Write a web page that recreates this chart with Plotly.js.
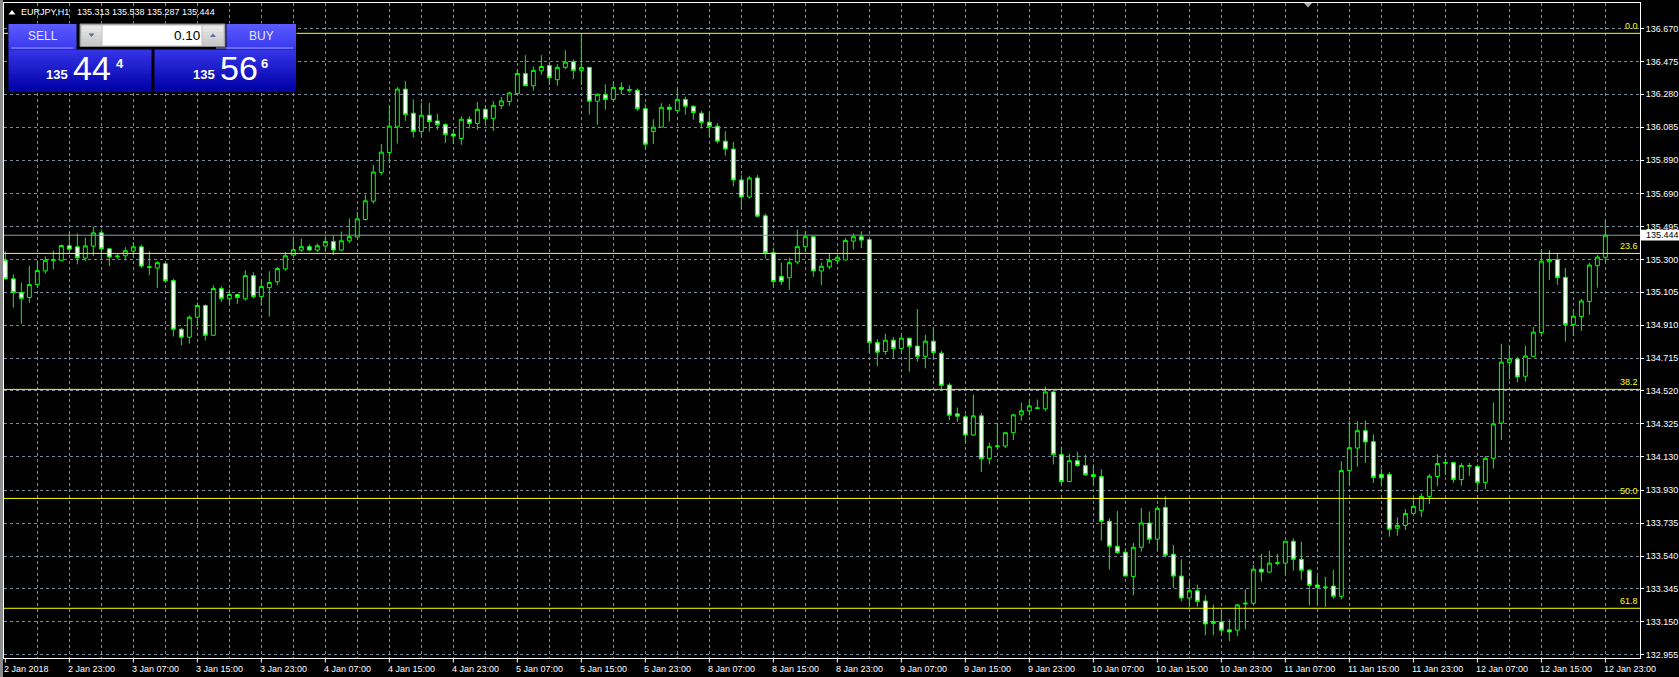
<!DOCTYPE html>
<html><head><meta charset="utf-8">
<script src="https://cdn.plot.ly/plotly-3.0.1.min.js"></script>
<style>html,body{margin:0;padding:0;background:#000;overflow:hidden}#chart{width:1679px;height:677px}</style>
</head><body><div id="chart"></div>
<script>
// ---- DATA (EURJPY, H1) ----
const symbol = 'EURJPY,H1';
const headerOHLC = '135.313 135.538 135.287 135.444';
const timeLabels = ['2 Jan 2018','2 Jan 23:00','3 Jan 07:00','3 Jan 15:00','3 Jan 23:00','4 Jan 07:00','4 Jan 15:00','4 Jan 23:00','5 Jan 07:00','5 Jan 15:00','5 Jan 23:00','8 Jan 07:00','8 Jan 15:00','8 Jan 23:00','9 Jan 07:00','9 Jan 15:00','9 Jan 23:00','10 Jan 07:00','10 Jan 15:00','10 Jan 23:00','11 Jan 07:00','11 Jan 15:00','11 Jan 23:00','12 Jan 07:00','12 Jan 15:00','12 Jan 23:00'];
const priceTicks = ['136.670','136.475','136.280','136.085','135.890','135.690','135.495','135.300','135.105','134.910','134.715','134.520','134.325','134.130','133.930','133.735','133.540','133.345','133.150','132.955'];
const open = [135.295,135.185,135.104,135.074,135.151,135.232,135.293,135.295,135.381,135.375,
135.308,135.379,135.458,135.363,135.316,135.322,135.350,135.375,135.257,135.249,
135.275,135.175,134.886,134.839,134.957,135.027,134.850,135.128,135.067,135.092,
135.067,135.204,135.080,135.133,135.167,135.244,135.326,135.356,135.376,135.356,
135.380,135.407,135.356,135.411,135.433,135.537,135.646,135.817,135.935,136.087,
136.311,136.168,136.059,136.156,136.122,136.101,136.044,136.018,136.132,136.107,
136.191,136.136,136.213,136.237,136.284,136.404,136.331,136.420,136.451,136.367,
136.440,136.473,136.422,136.440,136.239,136.280,136.250,136.321,136.304,136.304,
136.195,136.059,136.085,136.203,136.183,136.250,136.209,136.168,136.115,136.091,
136.002,135.955,135.772,135.671,135.784,135.559,135.340,135.199,135.191,135.285,
135.376,135.435,135.232,135.256,135.293,135.297,135.409,135.435,135.418,134.807,
134.754,134.821,134.772,134.833,134.786,134.725,134.815,134.744,134.555,134.384,
134.366,134.258,134.372,134.118,134.189,134.193,134.272,134.378,134.402,134.416,
134.414,134.514,134.142,133.982,134.106,134.077,134.023,134.012,133.746,133.598,
133.563,133.419,133.592,133.736,133.640,133.829,133.551,133.421,133.291,133.334,
133.273,133.151,133.149,133.102,133.100,133.256,133.260,133.462,133.445,133.496,
133.498,133.628,133.521,133.456,133.368,133.352,133.362,133.301,134.047,134.181,
134.284,134.219,134.024,134.024,133.705,133.722,133.793,133.811,133.894,134.012,
134.091,134.095,133.994,134.073,134.071,133.977,134.120,134.329,134.689,134.709,
134.607,134.725,134.867,135.286,135.300,135.194,134.914,134.961,135.050,135.263,
135.313];
const high = [135.348,135.212,135.163,135.263,135.295,135.318,135.354,135.389,135.462,135.454,
135.430,135.495,135.478,135.363,135.334,135.373,135.403,135.389,135.348,135.289,
135.281,135.185,134.894,134.968,135.045,135.033,135.147,135.141,135.122,135.095,
135.236,135.224,135.183,135.230,135.255,135.344,135.435,135.423,135.390,135.395,
135.437,135.443,135.466,135.543,135.583,135.685,135.862,135.986,136.217,136.323,
136.359,136.250,136.229,136.229,136.164,136.109,136.075,136.150,136.150,136.235,
136.211,136.241,136.264,136.296,136.428,136.512,136.445,136.512,136.473,136.459,
136.542,136.487,136.637,136.440,136.286,136.339,136.357,136.351,136.333,136.315,
136.221,136.132,136.227,136.221,136.315,136.266,136.215,136.181,136.172,136.109,
136.061,135.998,135.801,135.797,135.801,135.573,135.370,135.281,135.311,135.478,
135.470,135.435,135.281,135.336,135.330,135.429,135.455,135.467,135.430,134.827,
134.859,134.839,134.853,134.833,135.006,134.853,134.898,134.758,134.567,134.421,
134.380,134.498,134.390,134.213,134.331,134.272,134.384,134.451,134.469,134.469,
134.546,134.526,134.189,134.147,134.159,134.142,134.083,134.055,133.764,133.807,
133.586,133.618,133.825,133.805,133.837,133.896,133.606,133.521,133.395,133.370,
133.307,133.251,133.212,133.165,133.257,133.342,133.488,133.553,133.571,133.553,
133.628,133.645,133.626,133.464,133.423,133.417,133.458,134.102,134.343,134.339,
134.345,134.262,134.059,134.039,133.770,133.819,133.878,133.913,134.026,134.144,
134.118,134.095,134.091,134.091,134.083,134.134,134.451,134.800,134.792,134.721,
134.788,134.900,135.359,135.355,135.336,135.249,135.005,135.066,135.280,135.326,
135.538];
const low = [135.180,135.014,134.919,135.043,135.133,135.216,135.242,135.289,135.334,135.271,
135.291,135.320,135.300,135.261,135.302,135.295,135.314,135.249,135.206,135.131,
135.161,134.843,134.790,134.801,134.907,134.819,134.850,135.049,135.033,135.037,
135.055,135.067,135.027,134.961,135.147,135.232,135.320,135.344,135.350,135.344,
135.348,135.326,135.350,135.397,135.433,135.531,135.632,135.799,135.870,135.988,
136.124,136.024,136.036,136.059,136.069,135.992,135.986,135.981,136.077,136.069,
136.109,136.063,136.193,136.211,136.284,136.331,136.302,136.396,136.335,136.331,
136.428,136.371,136.335,136.160,136.099,136.189,136.239,136.280,136.290,136.181,
135.955,135.986,136.085,136.118,136.183,136.160,136.130,136.077,136.026,135.988,
135.916,135.734,135.598,135.661,135.551,135.305,135.139,135.149,135.120,135.271,
135.350,135.197,135.149,135.242,135.271,135.297,135.360,135.366,134.742,134.666,
134.735,134.715,134.742,134.634,134.693,134.654,134.711,134.520,134.345,134.335,
134.213,134.252,134.039,134.084,134.177,134.181,134.228,134.343,134.374,134.412,
134.400,134.084,133.962,133.982,134.070,134.016,133.964,133.632,133.460,133.553,
133.421,133.307,133.567,133.614,133.573,133.531,133.350,133.271,133.236,133.240,
133.070,133.070,133.070,133.035,133.064,133.106,133.254,133.389,133.441,133.484,
133.429,133.454,133.399,133.248,133.254,133.238,133.287,133.283,133.961,134.071,
134.093,133.974,133.953,133.655,133.661,133.695,133.785,133.772,133.848,133.955,
134.020,133.974,133.957,134.016,133.933,133.937,134.059,134.229,134.587,134.571,
134.575,134.725,134.843,135.178,135.150,134.812,134.847,134.876,134.971,135.133,
135.287];
const close = [135.185,135.104,135.069,135.151,135.234,135.295,135.299,135.383,135.361,135.310,
135.381,135.458,135.363,135.314,135.320,135.352,135.375,135.261,135.253,135.281,
135.173,134.886,134.839,134.957,135.027,134.850,135.128,135.069,135.092,135.074,
135.204,135.080,135.139,135.163,135.246,135.322,135.358,135.376,135.356,135.382,
135.407,135.356,135.411,135.435,135.541,135.648,135.819,135.937,136.091,136.311,
136.160,136.059,136.156,136.118,136.101,136.042,136.032,136.132,136.107,136.191,
136.136,136.215,136.241,136.288,136.404,136.331,136.422,136.445,136.378,136.440,
136.471,136.422,136.440,136.239,136.280,136.250,136.321,136.310,136.308,136.195,
135.984,136.085,136.203,136.191,136.250,136.209,136.172,136.113,136.089,136.002,
135.955,135.772,135.671,135.784,135.557,135.340,135.169,135.169,135.281,135.376,
135.435,135.232,135.260,135.293,135.313,135.413,135.435,135.415,134.807,134.750,
134.821,134.772,134.833,134.784,134.725,134.815,134.748,134.553,134.376,134.370,
134.258,134.372,134.118,134.189,134.193,134.272,134.378,134.402,134.431,134.419,
134.514,134.142,133.982,134.106,134.077,134.023,134.012,133.746,133.598,133.561,
133.421,133.592,133.736,133.640,133.823,133.545,133.421,133.291,133.334,133.271,
133.137,133.141,133.100,133.090,133.250,133.260,133.462,133.445,133.498,133.500,
133.628,133.521,133.456,133.366,133.354,133.356,133.301,134.047,134.183,134.284,
134.217,134.006,134.004,133.699,133.722,133.793,133.835,133.894,134.014,134.089,
134.095,133.994,134.077,134.077,133.977,134.120,134.325,134.691,134.709,134.603,
134.727,134.869,135.290,135.300,135.192,134.914,134.963,135.054,135.267,135.314,
135.444];
const fibLabels = ['0.0','23.6','38.2','50.0','61.8'];
const fibPrices = [136.642,135.336,134.529,133.882,133.230];
const bidPrice = 135.444;
const bidLabel = '135.444';
const lotSize = '0.10';
const sellQuote = ['135','44','4'];
const buyQuote = ['135','56','6'];

// ---- LAYOUT GEOMETRY ----
const FIG_W = 1679, FIG_H = 677;
const ML = 4, MR = 39, MT = 3, MB = 19;
const PW = FIG_W - ML - MR, PH = FIG_H - MT - MB;
const BARS_PER_LABEL = 8, BARS_PER_GRID = 4;
const X = px => (px - ML) / PW;
const Y = py => 1 - (py - MT) / PH;
const FONT = 'Liberation Sans, Arial, sans-serif';
const GRID = '#7d8898';

const idx = open.map((_, i) => i);
const labelPos = timeLabels.map((_, i) => i * BARS_PER_LABEL);
const gridPos = [];
for (let k = BARS_PER_GRID; k < idx.length + 3; k += BARS_PER_GRID) gridPos.push(k);

const shapes = [];
const annotations = [];

function rectPx(x0, y0, x1, y1, fill, line) {
  shapes.push({type:'rect', xref:'paper', yref:'paper', x0:X(x0), x1:X(x1), y0:Y(y0), y1:Y(y1),
    fillcolor: fill, line: line ? {color: line, width: 1} : {width: 0}, layer:'above'});
}
function hex(c){return [parseInt(c.slice(1,3),16),parseInt(c.slice(3,5),16),parseInt(c.slice(5,7),16)];}
function gradRect(x0, y0, x1, y1, c0, c1, n) {
  const a = hex(c0), b = hex(c1);
  const h = (y1 - y0) / n;
  for (let i = 0; i < n; i++) {
    const t = i / (n - 1);
    const c = 'rgb(' + a.map((v, j) => Math.round(v + (b[j] - v) * t)).join(',') + ')';
    rectPx(x0, y0 + i * h, x1, y0 + (i + 1) * h + 0.4, c, null);
  }
}
function pathPx(pts, fill) {
  const d = pts.map((p, i) => (i ? 'L' : 'M') + X(p[0]) + ',' + Y(p[1])).join(' ') + ' Z';
  shapes.push({type:'path', xref:'paper', yref:'paper', path:d, fillcolor:fill, line:{width:0}, layer:'above'});
}
function textPx(x, y, text, size, color, xanchor, weight) {
  annotations.push({xref:'paper', yref:'paper', x:X(x), y:Y(y), text:text, showarrow:false,
    xanchor: xanchor || 'left', yanchor:'middle', borderpad:0,
    font:{family:FONT, size:size, color:color, weight: weight || 'normal'}});
}

// time-axis tick marks (one per label)
labelPos.forEach(k => {
  shapes.push({type:'line', xref:'x', x0:k, x1:k, yref:'paper', y0:Y(658), y1:Y(662.5),
    line:{color:'#ffffff', width:1}, layer:'above'});
});

// Fibonacci levels
fibPrices.forEach((p, i) => {
  shapes.push({type:'line', xref:'paper', x0:0, x1:1, yref:'y', y0:p, y1:p,
    line:{color:'#ffff00', width:1}, layer:'above'});
  annotations.push({xref:'paper', x:X(1639), xanchor:'right', yref:'y', y:p, yanchor:'bottom',
    yshift:1, borderpad:0, text:fibLabels[i], showarrow:false, font:{family:FONT, size:9, color:'#ffff00'}});
});
// bid line
shapes.push({type:'line', xref:'paper', x0:0, x1:1, yref:'y', y0:bidPrice, y1:bidPrice,
  line:{color:'#8f99a8', width:1}, layer:'above'});
// bid label box on price axis
shapes.push({type:'rect', xref:'paper', x0:X(1641), x1:X(1680), yref:'y', y0:bidPrice - 0.032, y1:bidPrice + 0.032,
  fillcolor:'#ffffff', line:{width:0}, layer:'above'});
annotations.push({xref:'paper', x:X(1645), xanchor:'left', yref:'y', y:bidPrice, yanchor:'middle', borderpad:0,
  text:bidLabel, showarrow:false, font:{family:FONT, size:9, color:'#000000'}});

// window frame strip at the left
rectPx(0, 0, 3, FIG_H, '#8c8c8c', null);
// chart-shift marker at the top
pathPx([[1304, 3], [1312, 3], [1308, 7.5]], '#a9b0ba');

// header
pathPx([[8.5, 14.5], [15.5, 14.5], [12, 10]], '#ffffff');
textPx(20, 12.5, symbol, 9, '#ffffff');
textPx(76, 12.5, headerOHLC, 9, '#ffffff');

// ---- one-click trading panel ----
rectPx(8, 23.5, 296.5, 92, '#000000', null);
gradRect(8.5, 24, 76.5, 49, '#5a5aff', '#3a3aee', 10);
gradRect(226.5, 24, 296, 49, '#5a5aff', '#3a3aee', 10);
rectPx(11.5, 47.5, 73.5, 48.5, '#9c9cff', null);
rectPx(216, 47.5, 293, 48.5, '#9c9cff', null);
gradRect(8.5, 49.5, 151.5, 91.5, '#3434e6', '#0000a6', 14);
gradRect(154.5, 49.5, 296, 91.5, '#3434e6', '#0000a6', 14);
rectPx(80, 24, 225, 46.5, '#bdbdbd', '#8a8a8a');
gradRect(81.5, 25.5, 101.5, 45.5, '#e8e8e8', '#c8c8c8', 6);
rectPx(102.5, 25.5, 201.5, 45.5, '#ffffff', null);
gradRect(202.5, 25.5, 223.5, 45.5, '#e8e8e8', '#c8c8c8', 6);
pathPx([[88.5, 33.5], [94.5, 33.5], [91.5, 37]], '#5a6f9a');
pathPx([[210, 37], [216, 37], [213, 33.5]], '#5a6f9a');

textPx(42.5, 35.5, 'SELL', 12, '#e8e8ff', 'center');
textPx(261.5, 35.5, 'BUY', 12, '#e8e8ff', 'center');
textPx(201, 35, lotSize, 13.5, '#000000', 'right');
textPx(44.5, 74.5, sellQuote[0], 13, '#ffffff', 'left', 'bold');
textPx(72, 68, sellQuote[1], 34, '#ffffff', 'left');
textPx(115, 63.5, sellQuote[2], 13, '#ffffff', 'left', 'bold');
textPx(191.5, 74.5, buyQuote[0], 13, '#ffffff', 'left', 'bold');
textPx(218.5, 68, buyQuote[1], 34, '#ffffff', 'left');
textPx(260, 63.5, buyQuote[2], 13, '#ffffff', 'left', 'bold');

// time labels (left aligned at their tick, as MT4 draws them)
labelPos.forEach((k, i) => {
  annotations.push({xref:'x', x:k, xshift:-2, xanchor:'left', yref:'paper', y:Y(668.5), yanchor:'middle',
    borderpad:0, text:timeLabels[i], showarrow:false, font:{family:FONT, size:9, color:'#ffffff'}});
});

const trace = {
  type:'candlestick', x: idx, open: open, high: high, low: low, close: close,
  increasing:{line:{color:'#00ff00', width:1}, fillcolor:'#000000'},
  decreasing:{line:{color:'#00ff00', width:1}, fillcolor:'#ffffff'},
  whiskerwidth: 0, showlegend:false, hoverinfo:'skip'
};

const layout = {
  width: FIG_W, height: FIG_H,
  margin:{l:ML, r:MR, t:MT, b:MB, autoexpand:false},
  paper_bgcolor:'#000000', plot_bgcolor:'#000000',
  showlegend:false,
  font:{family:FONT, size:9, color:'#ffffff'},
  xaxis:{
    range:[-0.166, 204.33], fixedrange:true, rangeslider:{visible:false},
    tickmode:'array', tickvals: gridPos, ticktext: gridPos.map(() => ''),
    ticks:'', showticklabels:false,
    showgrid:true, gridcolor:GRID, griddash:'3px,3px', gridwidth:1,
    showline:true, mirror:true, linecolor:'#ffffff', linewidth:1, zeroline:false
  },
  yaxis:{
    side:'right', range:[132.935, 136.822], fixedrange:true,
    tickmode:'array', tickvals: priceTicks.map(Number), ticktext: priceTicks,
    ticks:'outside', ticklen:3, tickcolor:'#ffffff', tickwidth:1,
    tickfont:{family:FONT, size:9, color:'#ffffff'},
    showgrid:true, gridcolor:GRID, griddash:'3px,3px', gridwidth:1,
    showline:true, mirror:true, linecolor:'#ffffff', linewidth:1, zeroline:false
  },
  shapes: shapes,
  annotations: annotations
};

Plotly.newPlot('chart', [trace], layout, {staticPlot:true, displayModeBar:false});
</script>
</body></html>
